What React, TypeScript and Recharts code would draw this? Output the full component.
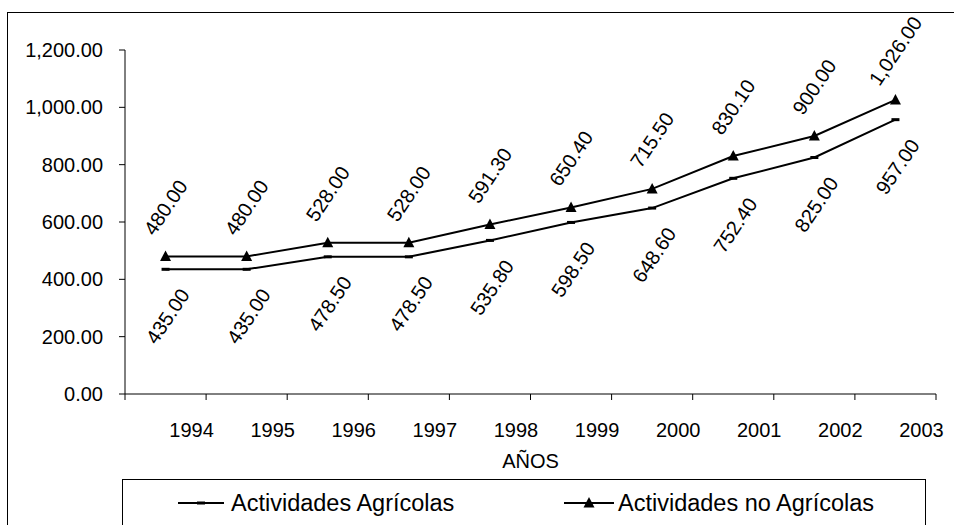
import { LineChart, Line, XAxis, YAxis, LabelList, Legend } from "recharts";

const YEARS = ["1994", "1995", "1996", "1997", "1998", "1999", "2000", "2001", "2002", "2003"];
const AGRICOLAS = [435, 435, 478.5, 478.5, 535.8, 598.5, 648.6, 752.4, 825, 957];
const NO_AGRICOLAS = [480, 480, 528, 528, 591.3, 650.4, 715.5, 830.1, 900, 1026];
const Y_TICKS = [0, 200, 400, 600, 800, 1000, 1200];
const SERIES_NAMES = ["Actividades Agrícolas", "Actividades no Agrícolas"];

const data = YEARS.map((year, i) => ({
  year,
  agricolas: AGRICOLAS[i],
  noAgricolas: NO_AGRICOLAS[i],
}));

const FONT = "'Liberation Sans', Arial, sans-serif";
const W = 954;
const H = 525;
const PLOT_LEFT = 125;
const PLOT_RIGHT = 936;
const HALF_BAND = (PLOT_RIGHT - PLOT_LEFT) / YEARS.length / 2;

const fmt = (v: number) =>
  v.toLocaleString("en-US", { minimumFractionDigits: 2, maximumFractionDigits: 2 });

// category ticks sit between points, labels drift right like the original
const XTick = (props: any) => {
  const { x, y, payload, index } = props;
  const last = index === YEARS.length - 1;
  return (
    <g>
      <line x1={x - HALF_BAND} x2={x - HALF_BAND} y1={y} y2={y + 6} stroke="#000" />
      {last && <line x1={x + HALF_BAND} x2={x + HALF_BAND} y1={y} y2={y + 6} stroke="#000" />}
      <text x={x + 26} y={y + 43} textAnchor="middle" fontSize={20} fontFamily={FONT} fill="#000">
        {payload.value}
      </text>
    </g>
  );
};

const DashDot = (props: any) => {
  const { cx, cy } = props;
  return <rect x={cx - 4} y={cy - 1.5} width={8} height={3} fill="#000" />;
};

const TriangleDot = (props: any) => {
  const { cx, cy } = props;
  return <polygon points={`${cx},${cy - 6} ${cx - 5.5},${cy + 4.5} ${cx + 5.5},${cy + 4.5}`} fill="#000" />;
};

const makeLabel = (offsetY: number, offsetX: number) => (props: any) => {
  const { x, y, value } = props;
  const cx = x + offsetX;
  const cy = y + offsetY;
  return (
    <text
      x={cx}
      y={cy}
      textAnchor="middle"
      dominantBaseline="central"
      transform={`rotate(-56 ${cx} ${cy})`}
      fontSize={20}
      fontFamily={FONT}
      fill="#000"
    >
      {fmt(value)}
    </text>
  );
};

const LegendBox = () => (
  <div
    style={{
      width: 804,
      height: 60,
      border: "1px solid #000",
      boxSizing: "border-box",
      position: "relative",
      fontFamily: FONT,
      fontSize: 23.5,
      color: "#000",
      background: "#fff",
    }}
  >
    <svg style={{ position: "absolute", left: 55, top: 13 }} width={46} height={20}>
      <line x1={0} x2={46} y1={10} y2={10} stroke="#000" strokeWidth={2} />
      <rect x={19} y={8.5} width={8} height={3} fill="#000" />
    </svg>
    <span style={{ position: "absolute", left: 108, top: 9, lineHeight: "28px" }}>{SERIES_NAMES[0]}</span>
    <svg style={{ position: "absolute", left: 441, top: 13 }} width={50} height={20}>
      <line x1={0} x2={50} y1={10} y2={10} stroke="#000" strokeWidth={2} />
      <polygon points="25,4 19.5,14.5 30.5,14.5" fill="#000" />
    </svg>
    <span style={{ position: "absolute", left: 495, top: 9, lineHeight: "28px" }}>{SERIES_NAMES[1]}</span>
  </div>
);

export default function App() {
  return (
    <div style={{ position: "absolute", left: 0, top: 0, width: W, height: H, overflow: "hidden", background: "#fff" }}>
      <div
        style={{
          position: "absolute",
          left: 7,
          top: 12,
          width: 1000,
          height: 600,
          border: "1px solid #000",
        }}
      />
      <div style={{ position: "absolute", left: 0, top: 0 }}>
        <LineChart width={W} height={H} data={data} margin={{ top: 50, right: 18, bottom: 57, left: 0 }}>
          <XAxis
            dataKey="year"
            height={74}
            padding={{ left: HALF_BAND, right: HALF_BAND }}
            axisLine={{ stroke: "#000" }}
            tickLine={false}
            tickSize={0}
            tickMargin={0}
            interval={0}
            tick={<XTick />}
            label={{ value: "AÑOS", position: "insideBottom", offset: 0, fontSize: 20, fontFamily: FONT, fill: "#000" }}
          />
          <YAxis
            width={125}
            domain={[0, 1200]}
            ticks={Y_TICKS}
            interval={0}
            tickFormatter={fmt}
            axisLine={{ stroke: "#000" }}
            tickLine={{ stroke: "#000" }}
            tickSize={6}
            tickMargin={16}
            tick={{ fontSize: 20, fontFamily: FONT, fill: "#000" }}
          />
          <Legend
            layout="horizontal"
            verticalAlign="middle"
            align="center"
            content={<LegendBox />}
            wrapperStyle={{ left: 122, top: 479, width: 804, height: 60 }}
          />
          <Line
            dataKey="agricolas"
            name={SERIES_NAMES[0]}
            stroke="#000"
            strokeWidth={2}
            dot={<DashDot />}
            activeDot={false}
            isAnimationActive={false}
          >
            <LabelList dataKey="agricolas" content={makeLabel(47, 2)} />
          </Line>
          <Line
            dataKey="noAgricolas"
            name={SERIES_NAMES[1]}
            stroke="#000"
            strokeWidth={2}
            dot={<TriangleDot />}
            activeDot={false}
            isAnimationActive={false}
          >
            <LabelList dataKey="noAgricolas" content={makeLabel(-49, 0)} />
          </Line>
        </LineChart>
      </div>
    </div>
  );
}
